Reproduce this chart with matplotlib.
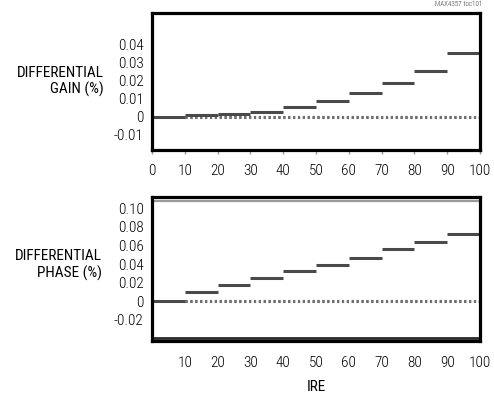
import matplotlib
matplotlib.use("Agg")
import matplotlib.pyplot as plt
import numpy as np

plt.rcParams['font.family'] = ['Roboto Condensed', 'DejaVu Sans']
plt.rcParams['font.weight'] = 'light'

# IRE step edges (staircase test signal)
ire_edges = [0, 10, 20, 30, 40, 50, 60, 70, 80, 90, 100]

# Differential gain (%) per IRE step
gain_levels = [0.0, 0.0008, 0.0014, 0.0027, 0.0054, 0.0088, 0.0130, 0.0184, 0.0253, 0.0351]

# Differential phase per IRE step
phase_levels = [0.0, 0.010, 0.017, 0.025, 0.032, 0.039, 0.047, 0.056, 0.064, 0.072]

# Reference (zero) trace runs from the first step to the end
ref_start, ref_end = 10, 100

# Clipped scope traces along the phase panel edges
phase_trace_upper = 0.108
phase_trace_lower = -0.040

gain_ticks = [-0.01, 0, 0.01, 0.02, 0.03, 0.04]
gain_ticklabels = ["-0.01", "0", "0.01", "0.02", "0.03", "0.04"]
phase_ticks = [-0.02, 0, 0.02, 0.04, 0.06, 0.08, 0.10]
phase_ticklabels = ["-0.02", "0", "0.02", "0.04", "0.06", "0.08", "0.10"]
gain_xticks = [0, 10, 20, 30, 40, 50, 60, 70, 80, 90, 100]
phase_xticks = [10, 20, 30, 40, 50, 60, 70, 80, 90, 100]

W, H = 494, 400
fig = plt.figure(figsize=(W / 100, H / 100), dpi=100)

def frac_box(left, top, right, bottom):
    return [left / W, 1 - bottom / H, (right - left) / W, (bottom - top) / H]

ax1 = fig.add_axes(frac_box(152, 13, 480, 150))
ax2 = fig.add_axes(frac_box(152, 197, 480, 341))

step_color = "#4a4a4a"
dot_color = "#6e6e6e"
fs = 11

for ax in (ax1, ax2):
    for sp in ax.spines.values():
        sp.set_linewidth(2.3)
        sp.set_color("black")
    ax.set_xlim(0, 100)
    ax.tick_params(axis='y', length=0, pad=6, labelsize=fs)
    ax.tick_params(axis='x', labelsize=fs)

edges = np.array(ire_edges)

# Gain panel
ax1.hlines([0, 0], [ref_start, ref_start], [ref_end, ref_end], colors=dot_color,
           linewidth=2.2, linestyles=[(0, (0.7, 0.9))])
ax1.hlines(gain_levels, edges[:-1], edges[1:], colors=step_color, linewidth=2.2)
ax1.set_ylim(-0.0186, 0.0575)
ax1.set_yticks(gain_ticks, gain_ticklabels)
ax1.set_xticks(gain_xticks, [str(v) for v in gain_xticks])
ax1.tick_params(axis='x', length=3, width=1, color="#999999", direction='out', pad=7)
ax1.set_ylabel("DIFFERENTIAL\nGAIN (%)", rotation=0, ha='right', va='center',
               multialignment='right', fontsize=fs, linespacing=1.2)
ax1.yaxis.set_label_coords(-0.146, 0.50)

# Phase panel
ax2.hlines([phase_trace_upper], [0], [100], colors="#9a9a9a", linewidth=1.6)
ax2.hlines([phase_trace_lower], [0], [100], colors="#2a2a2a", linewidth=2.0)
ax2.hlines([0, 0], [ref_start, ref_start], [ref_end, ref_end], colors=dot_color,
           linewidth=2.2, linestyles=[(0, (0.7, 0.9))])
ax2.hlines(phase_levels, edges[:-1], edges[1:], colors=step_color, linewidth=2.2)
ax2.set_ylim(-0.0432, 0.1124)
ax2.set_yticks(phase_ticks, phase_ticklabels)
ax2.set_xticks(phase_xticks, [str(v) for v in phase_xticks])
ax2.tick_params(axis='x', length=0, pad=11)
ax2.set_ylabel("DIFFERENTIAL\nPHASE (%)", rotation=0, ha='right', va='center',
               multialignment='right', fontsize=fs, linespacing=1.2)
ax2.yaxis.set_label_coords(-0.152, 0.53)
ax2.set_xlabel("IRE", fontsize=fs, labelpad=7)

fig.text(482 / W, 1 - 5 / H, "MAX4357 toc101", fontsize=5, ha='right', va='center',
         color="#333333")

fig.savefig("out.png", dpi=100)
